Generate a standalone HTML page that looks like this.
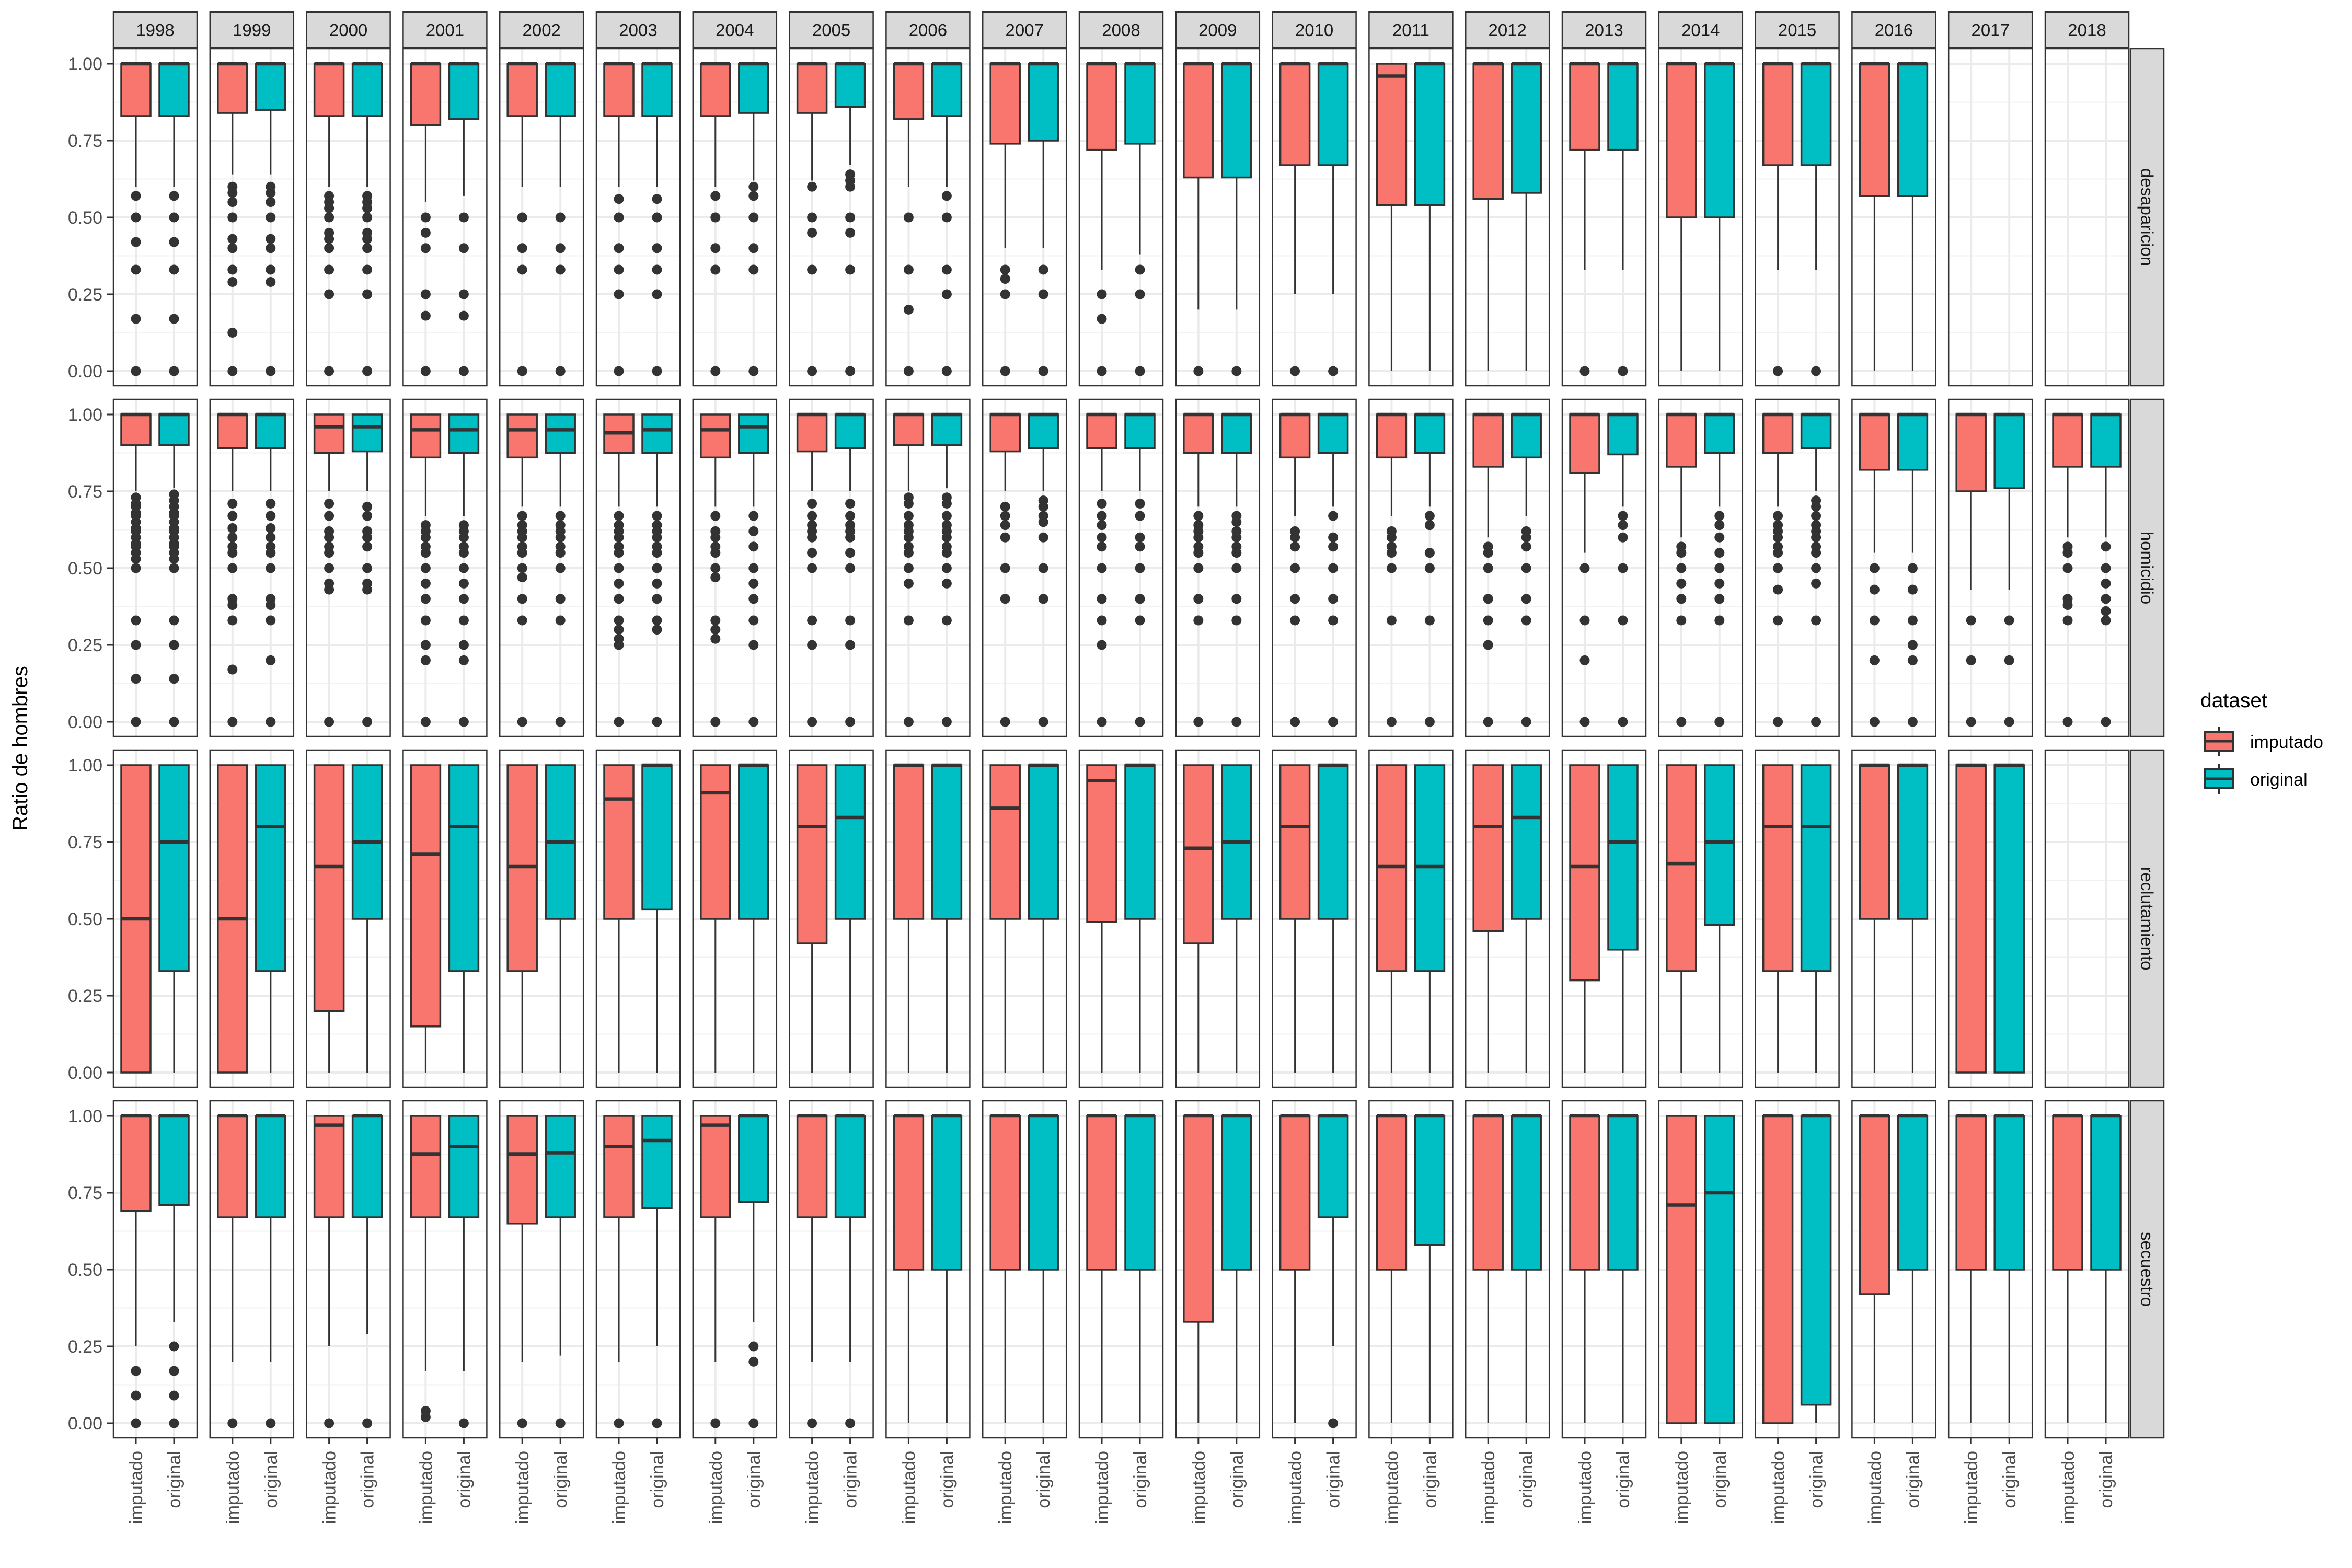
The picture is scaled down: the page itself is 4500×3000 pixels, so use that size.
<!DOCTYPE html>
<html><head><meta charset="utf-8"><style>
html,body{margin:0;padding:0;background:#fff;}
svg{display:block;font-family:"Liberation Sans",Arial,sans-serif;}
</style></head><body>
<svg id="chart" width="4500" height="3000" viewBox="0 0 4500 3000" xmlns="http://www.w3.org/2000/svg">
<rect x="0" y="0" width="4500" height="3000" fill="#fff"/>
<g id="plot"></g>
<text x="52" y="1432" transform="rotate(-90 52 1432)" text-anchor="middle" font-size="40" fill="#000">Ratio de hombres</text>
<g>
<text x="4210" y="1353" font-size="39" fill="#000">dataset</text>
<g>
<line x1="4245" y1="1390" x2="4245" y2="1447" stroke="#333" stroke-width="4"/>
<rect x="4218" y="1400" width="54" height="36" fill="#F8766D" stroke="#333" stroke-width="4"/>
<line x1="4218" y1="1418" x2="4272" y2="1418" stroke="#333" stroke-width="5"/>
<text x="4305" y="1431" font-size="34" fill="#000">imputado</text>
</g>
<g>
<line x1="4245" y1="1462" x2="4245" y2="1519" stroke="#333" stroke-width="4"/>
<rect x="4218" y="1472" width="54" height="36" fill="#00BFC4" stroke="#333" stroke-width="4"/>
<line x1="4218" y1="1490" x2="4272" y2="1490" stroke="#333" stroke-width="5"/>
<text x="4305" y="1503" font-size="34" fill="#000">original</text>
</g>
</g>
</svg>
<script>
const years = ["1998","1999","2000","2001","2002","2003","2004","2005","2006","2007","2008","2009","2010","2011","2012","2013","2014","2015","2016","2017","2018"];
const crimes = ["desaparicion","homicidio","reclutamiento","secuestro"];
const datasets = ["imputado","original"];
const yTicks = [0,0.25,0.5,0.75,1];
const yTickLabels = ["0.00","0.25","0.50","0.75","1.00"];

const impQ1 = [
 [0.83,0.84,0.83,0.80,0.83,0.83,0.83,0.84,0.82,0.74,0.72,0.63,0.67,0.54,0.56,0.72,0.50,0.67,0.57,null,null],
 [0.90,0.89,0.875,0.86,0.86,0.875,0.86,0.88,0.90,0.88,0.89,0.875,0.86,0.86,0.83,0.81,0.83,0.875,0.82,0.75,0.83],
 [0,0,0.2,0.15,0.33,0.5,0.5,0.42,0.5,0.5,0.49,0.42,0.5,0.33,0.46,0.3,0.33,0.33,0.5,0,null],
 [0.69,0.67,0.67,0.67,0.65,0.67,0.67,0.67,0.5,0.5,0.5,0.33,0.5,0.5,0.5,0.5,0,0,0.42,0.5,0.5]];
const origQ1 = [
 [0.83,0.85,0.83,0.82,0.83,0.83,0.84,0.86,0.83,0.75,0.74,0.63,0.67,0.54,0.58,0.72,0.50,0.67,0.57,null,null],
 [0.90,0.89,0.88,0.875,0.875,0.875,0.875,0.89,0.90,0.89,0.89,0.875,0.875,0.875,0.86,0.87,0.875,0.89,0.82,0.76,0.83],
 [0.33,0.33,0.5,0.33,0.5,0.53,0.5,0.5,0.5,0.5,0.5,0.5,0.5,0.33,0.5,0.4,0.48,0.33,0.5,0,null],
 [0.71,0.67,0.67,0.67,0.67,0.7,0.72,0.67,0.5,0.5,0.5,0.5,0.67,0.58,0.5,0.5,0,0.06,0.5,0.5,0.5]];
const impMed = [
 [1,1,1,1,1,1,1,1,1,1,1,1,1,0.96,1,1,1,1,1,null,null],
 [1,1,0.96,0.95,0.95,0.94,0.95,1,1,1,1,1,1,1,1,1,1,1,1,1,1],
 [0.5,0.5,0.67,0.71,0.67,0.89,0.91,0.8,1,0.86,0.95,0.73,0.8,0.67,0.8,0.67,0.68,0.8,1,1,null],
 [1,1,0.97,0.875,0.875,0.9,0.97,1,1,1,1,1,1,1,1,1,0.71,1,1,1,1]];
const origMed = [
 [1,1,1,1,1,1,1,1,1,1,1,1,1,1,1,1,1,1,1,null,null],
 [1,1,0.96,0.95,0.95,0.95,0.96,1,1,1,1,1,1,1,1,1,1,1,1,1,1],
 [0.75,0.8,0.75,0.8,0.75,1,1,0.83,1,1,1,0.75,1,0.67,0.83,0.75,0.75,0.8,1,1,null],
 [1,1,1,0.9,0.88,0.92,1,1,1,1,1,1,1,1,1,1,0.75,1,1,1,1]];
const impQ3 = [
 [1,1,1,1,1,1,1,1,1,1,1,1,1,1,1,1,1,1,1,null,null],
 [1,1,1,1,1,1,1,1,1,1,1,1,1,1,1,1,1,1,1,1,1],
 [1,1,1,1,1,1,1,1,1,1,1,1,1,1,1,1,1,1,1,1,null],
 [1,1,1,1,1,1,1,1,1,1,1,1,1,1,1,1,1,1,1,1,1]];
const origQ3 = impQ3;
const impLo = [
 [0.6,0.64,0.6,0.55,0.6,0.6,0.6,0.62,0.6,0.4,0.33,0.2,0.25,0,0,0.33,0,0.33,0,null,null],
 [0.75,0.75,0.75,0.67,0.7,0.7,0.7,0.75,0.75,0.75,0.75,0.7,0.67,0.67,0.6,0.55,0.6,0.7,0.55,0.43,0.6],
 [0,0,0,0,0,0,0,0,0,0,0,0,0,0,0,0,0,0,0,0,null],
 [0.25,0.2,0.25,0.17,0.2,0.2,0.2,0.2,0,0,0,0,0,0,0,0,0,0,0,0,0]];
const origLo = [
 [0.6,0.64,0.6,0.57,0.6,0.6,0.62,0.67,0.6,0.4,0.38,0.2,0.25,0,0,0.33,0,0.33,0,null,null],
 [0.76,0.75,0.75,0.67,0.7,0.7,0.7,0.75,0.76,0.75,0.75,0.7,0.7,0.7,0.67,0.7,0.7,0.75,0.55,0.43,0.6],
 [0,0,0,0,0,0,0,0,0,0,0,0,0,0,0,0,0,0,0,0,null],
 [0.33,0.2,0.29,0.17,0.22,0.25,0.33,0.2,0,0,0,0,0.25,0,0,0,0,0,0,0,0]];
const impOut = [
 [[0.57,0.5,0.42,0.33,0.17,0],[0.6,0.58,0.55,0.5,0.43,0.4,0.33,0.29,0.125,0],[0.57,0.55,0.53,0.5,0.45,0.43,0.4,0.33,0.25,0],[0.5,0.45,0.4,0.25,0.18,0],[0.5,0.4,0.33,0],[0.56,0.5,0.4,0.33,0.25,0],[0.57,0.5,0.4,0.33,0],[0.6,0.5,0.45,0.33,0],[0.5,0.33,0.2,0],[0.33,0.3,0.25,0],[0.25,0.17,0],[0],[0],[],[],[0],[],[0],[],[],[]],
 [[0.73,0.71,0.7,0.68,0.67,0.65,0.63,0.62,0.6,0.58,0.57,0.55,0.53,0.5,0.33,0.25,0.14,0],[0.71,0.67,0.63,0.6,0.57,0.55,0.5,0.4,0.38,0.33,0.17,0],[0.71,0.67,0.62,0.6,0.57,0.55,0.5,0.45,0.43,0],[0.64,0.62,0.6,0.57,0.55,0.5,0.45,0.4,0.33,0.25,0.2,0],[0.67,0.64,0.62,0.6,0.57,0.55,0.5,0.47,0.4,0.33,0],[0.67,0.64,0.62,0.6,0.57,0.55,0.5,0.45,0.4,0.33,0.3,0.27,0.25,0],[0.67,0.62,0.6,0.57,0.55,0.5,0.47,0.33,0.3,0.27,0],[0.71,0.67,0.64,0.62,0.6,0.55,0.5,0.33,0.25,0],[0.73,0.71,0.67,0.64,0.62,0.6,0.57,0.55,0.5,0.45,0.33,0],[0.7,0.67,0.64,0.6,0.5,0.4,0],[0.71,0.67,0.64,0.6,0.57,0.5,0.4,0.33,0.25,0],[0.67,0.64,0.62,0.6,0.57,0.55,0.5,0.4,0.33,0],[0.62,0.6,0.57,0.5,0.4,0.33,0],[0.62,0.6,0.57,0.55,0.5,0.33,0],[0.57,0.55,0.5,0.4,0.33,0.25,0],[0.5,0.33,0.2,0],[0.57,0.55,0.5,0.45,0.4,0.33,0],[0.67,0.64,0.62,0.6,0.57,0.55,0.5,0.43,0.33,0],[0.5,0.43,0.33,0.2,0],[0.33,0.2,0],[0.57,0.55,0.5,0.4,0.38,0.33,0]],
 [[],[],[],[],[],[],[],[],[],[],[],[],[],[],[],[],[],[],[],[],[]],
 [[0.17,0.09,0],[0],[0],[0.04,0.02],[0],[0],[0],[0],[],[],[],[],[],[],[],[],[],[],[],[],[]]];
const origOut = [
 [[0.57,0.5,0.42,0.33,0.17,0],[0.6,0.58,0.55,0.5,0.43,0.4,0.33,0.29,0],[0.57,0.55,0.53,0.5,0.45,0.43,0.4,0.33,0.25,0],[0.5,0.4,0.25,0.18,0],[0.5,0.4,0.33,0],[0.56,0.5,0.4,0.33,0.25,0],[0.6,0.57,0.5,0.4,0.33,0],[0.64,0.62,0.6,0.5,0.45,0.33,0],[0.57,0.5,0.33,0.25,0],[0.33,0.25,0],[0.33,0.25,0],[0],[0],[],[],[0],[],[0],[],[],[]],
 [[0.74,0.72,0.7,0.68,0.67,0.65,0.63,0.62,0.6,0.58,0.57,0.55,0.53,0.5,0.33,0.25,0.14,0],[0.71,0.67,0.63,0.6,0.57,0.55,0.5,0.4,0.38,0.33,0.2,0],[0.7,0.67,0.62,0.6,0.57,0.5,0.45,0.43,0],[0.64,0.62,0.6,0.57,0.55,0.5,0.45,0.4,0.33,0.25,0.2,0],[0.67,0.64,0.62,0.6,0.57,0.55,0.5,0.4,0.33,0],[0.67,0.64,0.62,0.6,0.57,0.55,0.5,0.45,0.4,0.33,0.3,0],[0.67,0.62,0.57,0.5,0.45,0.4,0.33,0.25,0],[0.71,0.67,0.64,0.62,0.6,0.55,0.5,0.33,0.25,0],[0.73,0.71,0.67,0.64,0.62,0.6,0.57,0.55,0.5,0.45,0.33,0],[0.72,0.7,0.67,0.65,0.6,0.5,0.4,0],[0.71,0.67,0.6,0.57,0.5,0.4,0.33,0],[0.67,0.65,0.62,0.6,0.57,0.55,0.5,0.4,0.33,0],[0.67,0.6,0.57,0.5,0.4,0.33,0],[0.67,0.64,0.55,0.5,0.33,0],[0.62,0.6,0.57,0.5,0.4,0.33,0],[0.67,0.64,0.6,0.5,0.33,0],[0.67,0.64,0.6,0.55,0.5,0.45,0.4,0.33,0],[0.72,0.7,0.67,0.64,0.62,0.6,0.57,0.55,0.5,0.45,0.33,0],[0.5,0.43,0.33,0.25,0.2,0],[0.33,0.2,0],[0.57,0.5,0.45,0.4,0.36,0.33,0]],
 [[],[],[],[],[],[],[],[],[],[],[],[],[],[],[],[],[],[],[],[],[]],
 [[0.25,0.17,0.09,0],[0],[0],[0],[0],[0],[0.25,0.2,0],[0],[],[],[],[],[0],[],[],[],[],[],[],[],[]]];

const NS = "http://www.w3.org/2000/svg";
const plot = document.getElementById('plot');
const PX0 = 217, PITCH = 184.8, PW = 160;
const ROW0 = 93, RPITCH = 671, PH = 645, Y1OFF = 29, YRANGE = 588;
const colors = ["#F8766D","#00BFC4"];
const xOff = [43, 116];
const BW = 56;
function el(tag, attrs, parent){const e=document.createElementNS(NS,tag);for(const k in attrs)e.setAttribute(k,attrs[k]);(parent||plot).appendChild(e);return e;}
function yScale(r, v){return ROW0 + r*RPITCH + Y1OFF + (1 - v)*YRANGE;}
function xPanel(i){return PX0 + i*PITCH;}

// strips on top
years.forEach((yr,i)=>{
  const g = el('g',{});
  
  
  el('rect',{x:xPanel(i),y:23,width:PW,height:68,fill:"#D9D9D9",stroke:"#333","stroke-width":2.5},g);
  const t = el('text',{x:xPanel(i)+PW/2,y:69,"text-anchor":"middle","font-size":33,fill:"#1A1A1A"},g);
  t.textContent = yr;
});

crimes.forEach((cr,r)=>{
  const top = ROW0 + r*RPITCH;
  // right strip
  const sg = el('g',{});
  
  
  const sx = xPanel(years.length-1)+PW+3;
  el('rect',{x:sx,y:top,width:64,height:PH,fill:"#D9D9D9",stroke:"#333","stroke-width":2.5},sg);
  const cx = sx+32, cy = top+PH/2;
  const st = el('text',{x:cx,y:cy,"text-anchor":"middle","dominant-baseline":"central","font-size":33,fill:"#1A1A1A",transform:`rotate(90 ${cx} ${cy})`},sg);
  st.textContent = cr;
  // y axis
  const ya = el('g',{});
  
  
  yTicks.forEach((v,k)=>{
    const y = yScale(r,v);
    el('line',{x1:205,x2:217,y1:y,y2:y,stroke:"#333","stroke-width":3},ya);
    const t = el('text',{x:196,y:y+12,"text-anchor":"end","font-size":34,fill:"#4D4D4D"},ya);
    t.textContent = yTickLabels[k];
  });
  years.forEach((yr,i)=>{
    const px = xPanel(i);
    const pg = el('g',{});
    
    
    el('rect',{x:px,y:top,width:PW,height:PH,fill:"#fff"},pg);
    for(let k=0;k<4;k++){const y=yScale(r,0.125+k*0.25);el('line',{x1:px,x2:px+PW,y1:y,y2:y,stroke:"#F2F2F2","stroke-width":2},pg);}
    yTicks.forEach(v=>{const y=yScale(r,v);el('line',{x1:px,x2:px+PW,y1:y,y2:y,stroke:"#EBEBEB","stroke-width":4},pg);});
    xOff.forEach(o=>el('line',{x1:px+o,x2:px+o,y1:top,y2:top+PH,stroke:"#EBEBEB","stroke-width":4},pg));
    const Q1=[impQ1[r][i],origQ1[r][i]], MED=[impMed[r][i],origMed[r][i]], Q3=[impQ3[r][i],origQ3[r][i]], LO=[impLo[r][i],origLo[r][i]], OUT=[impOut[r][i],origOut[r][i]];
    for(let d=0; d<2; d++){
      if(Q1[d]===null || Q1[d]===undefined) continue;
      const bx = px + xOff[d];
      const bg = el('g',{},pg);
      
      
      el('line',{x1:bx,x2:bx,y1:yScale(r,Q1[d]),y2:yScale(r,LO[d]),stroke:"#333","stroke-width":3},bg);
      el('line',{x1:bx,x2:bx,y1:yScale(r,Q3[d]),y2:yScale(r,1),stroke:"#333","stroke-width":3},bg);
      const yt = yScale(r,Q3[d]), yb = yScale(r,Q1[d]);
      el('rect',{x:bx-BW/2,y:yt,width:BW,height:Math.max(yb-yt,0.5),fill:colors[d],stroke:"#333","stroke-width":3.5},bg);
      const ym = yScale(r,MED[d]);
      el('line',{x1:bx-BW/2,x2:bx+BW/2,y1:ym,y2:ym,stroke:"#333","stroke-width":6.5},bg);
      (OUT[d]||[]).forEach(v=>{
        const c = el('ellipse',{cx:bx,cy:yScale(r,v),rx:9.5,ry:9.5,fill:"#333"},bg);
        
        
      });
    }
    el('rect',{x:px,y:top,width:PW,height:PH,fill:"none",stroke:"#333","stroke-width":2.5},pg);
  });
});
// x axis labels
const bottom = ROW0 + 3*RPITCH + PH;
years.forEach((yr,i)=>{
  const xg = el('g',{});
  
  
  datasets.forEach((ds,d)=>{
    const x = xPanel(i)+xOff[d];
    el('line',{x1:x,x2:x,y1:bottom,y2:bottom+11,stroke:"#333","stroke-width":3},xg);
    const t = el('text',{x:x+12,y:bottom+25,"text-anchor":"end","font-size":34,fill:"#4D4D4D",transform:`rotate(-90 ${x+12} ${bottom+25})`},xg);
    t.textContent = ds;
  });
});
</script>
</body></html>
